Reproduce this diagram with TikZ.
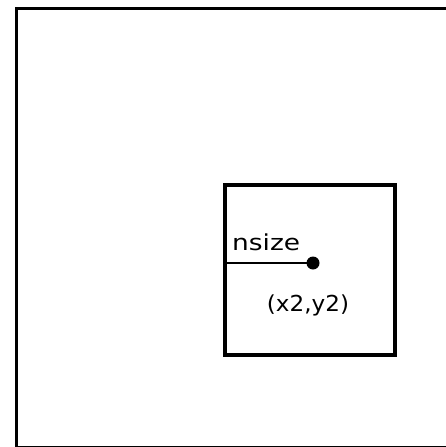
\documentclass[tikz,border=0pt]{standalone}
\usepackage{fontspec}
\setmainfont{DejaVu Sans}
\usetikzlibrary{calc,positioning}

\begin{document}
\begin{tikzpicture}[x=1pt,y=-1pt]

  \tikzstyle{frame} = [draw, rectangle, line width=3.5pt, inner sep=0pt]
  \tikzstyle{label} = [font=\fontsize{22}{24}\selectfont, inner sep=0pt]

  \useasboundingbox (0,0) rectangle (446,447);
  \clip (0,0) rectangle (446,447);

  % outer region, right side runs off the picture
  \node[frame, minimum width=446pt, minimum height=439pt, anchor=north west] (region) at (14.5,6.5) {};

  % inner window around the point
  \node[frame, minimum size=170pt, anchor=north west] (window) at (223,183) {};
  \node[circle, fill=black, inner sep=0pt, minimum size=13pt] (pt) at (313,263) {};

  \draw[line width=2.5pt] (window.west |- pt) -- (pt.center);

  \node[label, anchor=base west] (nsize) at (232,250) {\scalebox{1.2}[1]{nsize}};
  \node[label, anchor=base] (coords) at (308,311) {\scalebox{1.05}[1]{(x2,y2)}};

\end{tikzpicture}
\end{document}
